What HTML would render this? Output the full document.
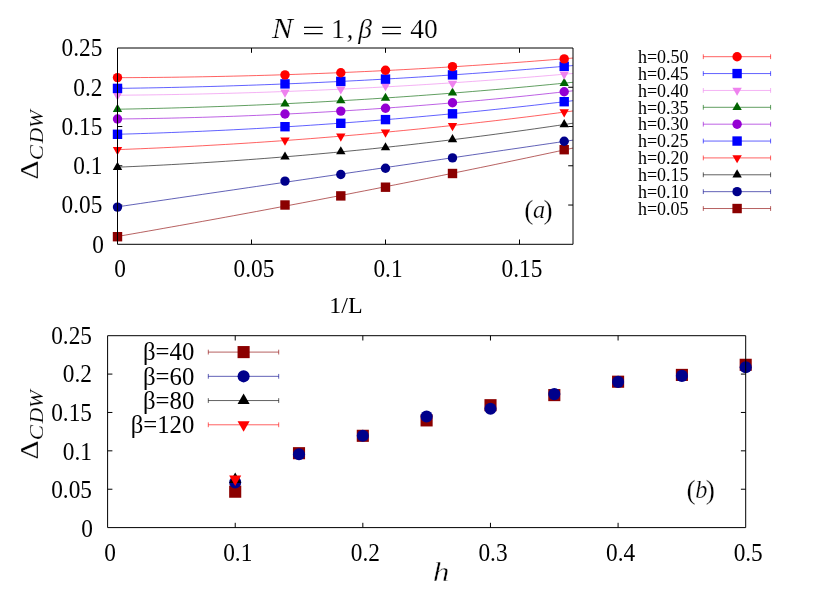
<!DOCTYPE html>
<html><head><meta charset="utf-8"><title>plot</title>
<style>
html,body{margin:0;padding:0;background:#fff}
svg{display:block;will-change:transform}
text{font-family:"Liberation Serif",serif;fill:#000;stroke:none}
.cm{stroke:#fff;stroke-width:.22px}
.cs{stroke:#fff;stroke-width:.1px}
.ch{stroke:#fff;stroke-width:.42px}
.r{font-style:normal}
.i{font-style:italic}
</style></head><body>
<svg width="830" height="604" viewBox="0 0 830 604">
<rect width="830" height="604" fill="#ffffff"/>
<defs><clipPath id="ca"><rect x="117.5" y="48.0" width="455.5" height="196.3"/></clipPath></defs>
<path d="M251.50 244.3v-4.8M251.50 48.0v4.8M385.50 244.3v-4.8M385.50 48.0v4.8M519.50 244.3v-4.8M519.50 48.0v4.8M117.5 205.04h4.8M573.0 205.04h-4.8M117.5 165.78h4.8M573.0 165.78h-4.8M117.5 126.52h4.8M573.0 126.52h-4.8M117.5 87.26h4.8M573.0 87.26h-4.8" stroke="#000" stroke-width="1" fill="none"/>
<path d="M235.22 527.6v-4.8M235.22 335.7v4.8M362.84 527.6v-4.8M362.84 335.7v4.8M490.46 527.6v-4.8M490.46 335.7v4.8M618.08 527.6v-4.8M618.08 335.7v4.8M107.6 489.22h4.8M745.7 489.22h-4.8M107.6 450.84h4.8M745.7 450.84h-4.8M107.6 412.46h4.8M745.7 412.46h-4.8M107.6 374.08h4.8M745.7 374.08h-4.8" stroke="#000" stroke-width="1" fill="none"/>
<g clip-path="url(#ca)" fill="none" stroke-width="1" stroke-opacity="0.62">
<polyline points="117.5,236.46 125.2,235.11 132.9,233.77 140.7,232.41 148.4,231.06 156.1,229.69 163.8,228.32 171.5,226.95 179.3,225.57 187.0,224.19 194.7,222.80 202.4,221.40 210.1,220.00 217.9,218.59 225.6,217.18 233.3,215.76 241.0,214.34 248.7,212.91 256.5,211.48 264.2,210.04 271.9,208.59 279.6,207.15 287.3,205.69 295.1,204.23 302.8,202.76 310.5,201.29 318.2,199.82 325.9,198.33 333.7,196.85 341.4,195.35 349.1,193.86 356.8,192.35 364.6,190.84 372.3,189.33 380.0,187.81 387.7,186.28 395.4,184.75 403.2,183.22 410.9,181.68 418.6,180.13 426.3,178.58 434.0,177.02 441.8,175.46 449.5,173.89 457.2,172.31 464.9,170.74 472.6,169.15 480.4,167.56 488.1,165.97 495.8,164.37 503.5,162.76 511.2,161.15 519.0,159.53 526.7,157.91 534.4,156.28 542.1,154.65 549.8,153.01 557.6,151.37 565.3,149.72 573.0,148.06" stroke="#8b0000"/>
<polyline points="117.5,206.85 125.2,205.71 132.9,204.58 140.7,203.45 148.4,202.31 156.1,201.18 163.8,200.05 171.5,198.92 179.3,197.78 187.0,196.65 194.7,195.52 202.4,194.39 210.1,193.25 217.9,192.12 225.6,190.99 233.3,189.86 241.0,188.73 248.7,187.59 256.5,186.46 264.2,185.33 271.9,184.20 279.6,183.07 287.3,181.94 295.1,180.81 302.8,179.67 310.5,178.54 318.2,177.41 325.9,176.28 333.7,175.15 341.4,174.02 349.1,172.89 356.8,171.76 364.6,170.63 372.3,169.50 380.0,168.37 387.7,167.24 395.4,166.11 403.2,164.98 410.9,163.85 418.6,162.72 426.3,161.59 434.0,160.46 441.8,159.33 449.5,158.20 457.2,157.08 464.9,155.95 472.6,154.82 480.4,153.69 488.1,152.56 495.8,151.43 503.5,150.30 511.2,149.18 519.0,148.05 526.7,146.92 534.4,145.79 542.1,144.66 549.8,143.54 557.6,142.41 565.3,141.28 573.0,140.15" stroke="#00008b"/>
<polyline points="117.5,167.20 125.2,166.87 132.9,166.52 140.7,166.17 148.4,165.79 156.1,165.40 163.8,165.00 171.5,164.59 179.3,164.16 187.0,163.71 194.7,163.25 202.4,162.78 210.1,162.29 217.9,161.79 225.6,161.27 233.3,160.74 241.0,160.19 248.7,159.64 256.5,159.06 264.2,158.47 271.9,157.87 279.6,157.25 287.3,156.62 295.1,155.98 302.8,155.32 310.5,154.64 318.2,153.96 325.9,153.25 333.7,152.54 341.4,151.80 349.1,151.06 356.8,150.30 364.6,149.52 372.3,148.74 380.0,147.93 387.7,147.12 395.4,146.28 403.2,145.44 410.9,144.58 418.6,143.70 426.3,142.81 434.0,141.91 441.8,140.99 449.5,140.06 457.2,139.12 464.9,138.16 472.6,137.18 480.4,136.19 488.1,135.19 495.8,134.17 503.5,133.14 511.2,132.09 519.0,131.03 526.7,129.96 534.4,128.87 542.1,127.76 549.8,126.65 557.6,125.51 565.3,124.37 573.0,123.21" stroke="#000000"/>
<polyline points="117.5,149.62 125.2,149.33 132.9,149.03 140.7,148.72 148.4,148.39 156.1,148.05 163.8,147.70 171.5,147.34 179.3,146.96 187.0,146.57 194.7,146.17 202.4,145.75 210.1,145.32 217.9,144.88 225.6,144.43 233.3,143.97 241.0,143.49 248.7,143.00 256.5,142.49 264.2,141.98 271.9,141.45 279.6,140.91 287.3,140.35 295.1,139.79 302.8,139.21 310.5,138.61 318.2,138.01 325.9,137.39 333.7,136.76 341.4,136.12 349.1,135.46 356.8,134.80 364.6,134.11 372.3,133.42 380.0,132.72 387.7,132.00 395.4,131.27 403.2,130.52 410.9,129.76 418.6,129.00 426.3,128.21 434.0,127.42 441.8,126.61 449.5,125.79 457.2,124.96 464.9,124.11 472.6,123.26 480.4,122.39 488.1,121.50 495.8,120.61 503.5,119.70 511.2,118.78 519.0,117.84 526.7,116.90 534.4,115.94 542.1,114.97 549.8,113.98 557.6,112.98 565.3,111.98 573.0,110.95" stroke="#ff0000"/>
<polyline points="117.5,134.27 125.2,134.05 132.9,133.83 140.7,133.59 148.4,133.34 156.1,133.08 163.8,132.80 171.5,132.51 179.3,132.21 187.0,131.90 194.7,131.58 202.4,131.24 210.1,130.89 217.9,130.53 225.6,130.16 233.3,129.77 241.0,129.37 248.7,128.96 256.5,128.54 264.2,128.11 271.9,127.66 279.6,127.20 287.3,126.73 295.1,126.25 302.8,125.75 310.5,125.24 318.2,124.72 325.9,124.19 333.7,123.65 341.4,123.09 349.1,122.52 356.8,121.94 364.6,121.34 372.3,120.74 380.0,120.12 387.7,119.49 395.4,118.85 403.2,118.19 410.9,117.52 418.6,116.85 426.3,116.15 434.0,115.45 441.8,114.73 449.5,114.01 457.2,113.26 464.9,112.51 472.6,111.75 480.4,110.97 488.1,110.18 495.8,109.38 503.5,108.56 511.2,107.74 519.0,106.90 526.7,106.05 534.4,105.19 542.1,104.31 549.8,103.42 557.6,102.52 565.3,101.61 573.0,100.69" stroke="#0000ff"/>
<polyline points="117.5,118.98 125.2,118.90 132.9,118.80 140.7,118.69 148.4,118.56 156.1,118.42 163.8,118.27 171.5,118.10 179.3,117.92 187.0,117.73 194.7,117.52 202.4,117.30 210.1,117.07 217.9,116.82 225.6,116.56 233.3,116.29 241.0,116.00 248.7,115.70 256.5,115.38 264.2,115.05 271.9,114.71 279.6,114.35 287.3,113.99 295.1,113.60 302.8,113.21 310.5,112.80 318.2,112.37 325.9,111.94 333.7,111.49 341.4,111.02 349.1,110.54 356.8,110.05 364.6,109.55 372.3,109.03 380.0,108.50 387.7,107.95 395.4,107.40 403.2,106.82 410.9,106.24 418.6,105.64 426.3,105.03 434.0,104.40 441.8,103.76 449.5,103.11 457.2,102.44 464.9,101.76 472.6,101.06 480.4,100.36 488.1,99.64 495.8,98.90 503.5,98.15 511.2,97.39 519.0,96.62 526.7,95.83 534.4,95.03 542.1,94.21 549.8,93.38 557.6,92.54 565.3,91.68 573.0,90.81" stroke="#9400d3"/>
<polyline points="117.5,109.24 125.2,109.09 132.9,108.94 140.7,108.78 148.4,108.60 156.1,108.42 163.8,108.22 171.5,108.02 179.3,107.80 187.0,107.57 194.7,107.33 202.4,107.08 210.1,106.82 217.9,106.55 225.6,106.27 233.3,105.97 241.0,105.67 248.7,105.35 256.5,105.03 264.2,104.69 271.9,104.34 279.6,103.98 287.3,103.61 295.1,103.23 302.8,102.84 310.5,102.44 318.2,102.03 325.9,101.60 333.7,101.17 341.4,100.72 349.1,100.26 356.8,99.80 364.6,99.32 372.3,98.83 380.0,98.33 387.7,97.82 395.4,97.30 403.2,96.76 410.9,96.22 418.6,95.66 426.3,95.10 434.0,94.52 441.8,93.94 449.5,93.34 457.2,92.73 464.9,92.11 472.6,91.48 480.4,90.84 488.1,90.18 495.8,89.52 503.5,88.85 511.2,88.16 519.0,87.46 526.7,86.76 534.4,86.04 542.1,85.31 549.8,84.57 557.6,83.82 565.3,83.06 573.0,82.29" stroke="#006400"/>
<polyline points="117.5,95.22 125.2,95.16 132.9,95.09 140.7,95.00 148.4,94.91 156.1,94.81 163.8,94.69 171.5,94.57 179.3,94.43 187.0,94.28 194.7,94.13 202.4,93.96 210.1,93.78 217.9,93.59 225.6,93.39 233.3,93.18 241.0,92.96 248.7,92.73 256.5,92.49 264.2,92.24 271.9,91.98 279.6,91.70 287.3,91.42 295.1,91.12 302.8,90.82 310.5,90.50 318.2,90.18 325.9,89.84 333.7,89.49 341.4,89.13 349.1,88.76 356.8,88.38 364.6,87.99 372.3,87.59 380.0,87.18 387.7,86.76 395.4,86.33 403.2,85.88 410.9,85.43 418.6,84.97 426.3,84.49 434.0,84.01 441.8,83.51 449.5,83.00 457.2,82.49 464.9,81.96 472.6,81.42 480.4,80.87 488.1,80.31 495.8,79.74 503.5,79.16 511.2,78.57 519.0,77.97 526.7,77.36 534.4,76.73 542.1,76.10 549.8,75.46 557.6,74.80 565.3,74.14 573.0,73.46" stroke="#ee82ee"/>
<polyline points="117.5,88.39 125.2,88.29 132.9,88.17 140.7,88.05 148.4,87.91 156.1,87.77 163.8,87.61 171.5,87.45 179.3,87.28 187.0,87.10 194.7,86.90 202.4,86.70 210.1,86.49 217.9,86.27 225.6,86.04 233.3,85.79 241.0,85.54 248.7,85.28 256.5,85.01 264.2,84.73 271.9,84.44 279.6,84.14 287.3,83.83 295.1,83.52 302.8,83.19 310.5,82.85 318.2,82.50 325.9,82.14 333.7,81.77 341.4,81.40 349.1,81.01 356.8,80.61 364.6,80.21 372.3,79.79 380.0,79.36 387.7,78.93 395.4,78.48 403.2,78.03 410.9,77.56 418.6,77.09 426.3,76.60 434.0,76.11 441.8,75.61 449.5,75.09 457.2,74.57 464.9,74.04 472.6,73.49 480.4,72.94 488.1,72.38 495.8,71.81 503.5,71.22 511.2,70.63 519.0,70.03 526.7,69.42 534.4,68.80 542.1,68.17 549.8,67.53 557.6,66.88 565.3,66.22 573.0,65.55" stroke="#0000ff"/>
<polyline points="117.5,77.68 125.2,77.65 132.9,77.61 140.7,77.56 148.4,77.50 156.1,77.43 163.8,77.34 171.5,77.25 179.3,77.15 187.0,77.04 194.7,76.91 202.4,76.78 210.1,76.64 217.9,76.48 225.6,76.32 233.3,76.14 241.0,75.96 248.7,75.76 256.5,75.55 264.2,75.34 271.9,75.11 279.6,74.87 287.3,74.62 295.1,74.36 302.8,74.09 310.5,73.81 318.2,73.52 325.9,73.22 333.7,72.91 341.4,72.59 349.1,72.25 356.8,71.91 364.6,71.56 372.3,71.19 380.0,70.82 387.7,70.43 395.4,70.04 403.2,69.63 410.9,69.22 418.6,68.79 426.3,68.35 434.0,67.90 441.8,67.45 449.5,66.98 457.2,66.50 464.9,66.01 472.6,65.51 480.4,65.00 488.1,64.48 495.8,63.95 503.5,63.40 511.2,62.85 519.0,62.29 526.7,61.72 534.4,61.13 542.1,60.54 549.8,59.93 557.6,59.32 565.3,58.69 573.0,58.06" stroke="#ff0000"/>
</g>
<rect x="112.80" y="232.00" width="9.40" height="9.40" fill="#8b0000"/>
<rect x="280.30" y="200.30" width="9.40" height="9.40" fill="#8b0000"/>
<rect x="336.10" y="191.20" width="9.40" height="9.40" fill="#8b0000"/>
<rect x="380.80" y="182.50" width="9.40" height="9.40" fill="#8b0000"/>
<rect x="447.80" y="168.80" width="9.40" height="9.40" fill="#8b0000"/>
<rect x="559.50" y="145.00" width="9.40" height="9.40" fill="#8b0000"/>
<circle cx="117.50" cy="207.10" r="4.70" fill="#00008b"/>
<circle cx="285.00" cy="181.10" r="4.70" fill="#00008b"/>
<circle cx="340.80" cy="174.50" r="4.70" fill="#00008b"/>
<circle cx="385.50" cy="168.20" r="4.70" fill="#00008b"/>
<circle cx="452.50" cy="157.90" r="4.70" fill="#00008b"/>
<circle cx="564.20" cy="141.20" r="4.70" fill="#00008b"/>
<path d="M117.50 161.77L122.20 169.91L112.80 169.91Z" fill="#000000"/>
<path d="M285.00 151.42L289.70 159.56L280.30 159.56Z" fill="#000000"/>
<path d="M340.80 146.22L345.50 154.36L336.10 154.36Z" fill="#000000"/>
<path d="M385.50 142.22L390.20 150.36L380.80 150.36Z" fill="#000000"/>
<path d="M452.50 134.12L457.20 142.26L447.80 142.26Z" fill="#000000"/>
<path d="M564.20 119.12L568.90 127.26L559.50 127.26Z" fill="#000000"/>
<path d="M117.50 155.13L122.20 146.99L112.80 146.99Z" fill="#ff0000"/>
<path d="M285.00 145.63L289.70 137.49L280.30 137.49Z" fill="#ff0000"/>
<path d="M340.80 141.73L345.50 133.59L336.10 133.59Z" fill="#ff0000"/>
<path d="M385.50 137.63L390.20 129.49L380.80 129.49Z" fill="#ff0000"/>
<path d="M452.50 131.13L457.20 122.99L447.80 122.99Z" fill="#ff0000"/>
<path d="M564.20 117.43L568.90 109.29L559.50 109.29Z" fill="#ff0000"/>
<rect x="112.80" y="129.60" width="9.40" height="9.40" fill="#0000ff"/>
<rect x="280.30" y="122.00" width="9.40" height="9.40" fill="#0000ff"/>
<rect x="336.10" y="118.60" width="9.40" height="9.40" fill="#0000ff"/>
<rect x="380.80" y="114.90" width="9.40" height="9.40" fill="#0000ff"/>
<rect x="447.80" y="109.10" width="9.40" height="9.40" fill="#0000ff"/>
<rect x="559.50" y="97.00" width="9.40" height="9.40" fill="#0000ff"/>
<circle cx="117.50" cy="119.00" r="4.70" fill="#9400d3"/>
<circle cx="285.00" cy="114.00" r="4.70" fill="#9400d3"/>
<circle cx="340.80" cy="111.10" r="4.70" fill="#9400d3"/>
<circle cx="385.50" cy="108.20" r="4.70" fill="#9400d3"/>
<circle cx="452.50" cy="102.80" r="4.70" fill="#9400d3"/>
<circle cx="564.20" cy="91.80" r="4.70" fill="#9400d3"/>
<path d="M117.50 103.77L122.20 111.91L112.80 111.91Z" fill="#006400"/>
<path d="M285.00 98.42L289.70 106.56L280.30 106.56Z" fill="#006400"/>
<path d="M340.80 95.22L345.50 103.36L336.10 103.36Z" fill="#006400"/>
<path d="M385.50 92.72L390.20 100.86L380.80 100.86Z" fill="#006400"/>
<path d="M452.50 87.42L457.20 95.56L447.80 95.56Z" fill="#006400"/>
<path d="M564.20 77.82L568.90 85.96L559.50 85.96Z" fill="#006400"/>
<path d="M117.50 100.53L122.20 92.39L112.80 92.39Z" fill="#ee82ee"/>
<path d="M285.00 97.63L289.70 89.49L280.30 89.49Z" fill="#ee82ee"/>
<path d="M340.80 94.53L345.50 86.39L336.10 86.39Z" fill="#ee82ee"/>
<path d="M385.50 91.23L390.20 83.09L380.80 83.09Z" fill="#ee82ee"/>
<path d="M452.50 88.83L457.20 80.69L447.80 80.69Z" fill="#ee82ee"/>
<path d="M564.20 79.63L568.90 71.49L559.50 71.49Z" fill="#ee82ee"/>
<rect x="112.80" y="83.70" width="9.40" height="9.40" fill="#0000ff"/>
<rect x="280.30" y="79.20" width="9.40" height="9.40" fill="#0000ff"/>
<rect x="336.10" y="76.70" width="9.40" height="9.40" fill="#0000ff"/>
<rect x="380.80" y="74.40" width="9.40" height="9.40" fill="#0000ff"/>
<rect x="447.80" y="70.20" width="9.40" height="9.40" fill="#0000ff"/>
<rect x="559.50" y="61.60" width="9.40" height="9.40" fill="#0000ff"/>
<circle cx="117.50" cy="77.60" r="4.70" fill="#ff0000"/>
<circle cx="285.00" cy="74.90" r="4.70" fill="#ff0000"/>
<circle cx="340.80" cy="72.80" r="4.70" fill="#ff0000"/>
<circle cx="385.50" cy="70.30" r="4.70" fill="#ff0000"/>
<circle cx="452.50" cy="66.60" r="4.70" fill="#ff0000"/>
<circle cx="564.20" cy="58.90" r="4.70" fill="#ff0000"/>
<text x="688.6" y="62.90" text-anchor="end" font-size="18" class="r">h=0.50</text>
<path d="M703.3 56.70H770.6M703.3 54.30v4.8M770.6 54.30v4.8" stroke="#ff0000" stroke-opacity="0.62" fill="none"/>
<circle cx="737.10" cy="56.70" r="4.70" fill="#ff0000"/>
<text x="688.6" y="79.77" text-anchor="end" font-size="18" class="r">h=0.45</text>
<path d="M703.3 73.57H770.6M703.3 71.17v4.8M770.6 71.17v4.8" stroke="#0000ff" stroke-opacity="0.62" fill="none"/>
<rect x="732.40" y="68.87" width="9.40" height="9.40" fill="#0000ff"/>
<text x="688.6" y="96.64" text-anchor="end" font-size="18" class="r">h=0.40</text>
<path d="M703.3 90.44H770.6M703.3 88.04v4.8M770.6 88.04v4.8" stroke="#ee82ee" stroke-opacity="0.62" fill="none"/>
<path d="M737.10 95.87L741.80 87.73L732.40 87.73Z" fill="#ee82ee"/>
<text x="688.6" y="113.51" text-anchor="end" font-size="18" class="r">h=0.35</text>
<path d="M703.3 107.31H770.6M703.3 104.91v4.8M770.6 104.91v4.8" stroke="#006400" stroke-opacity="0.62" fill="none"/>
<path d="M737.10 101.88L741.80 110.02L732.40 110.02Z" fill="#006400"/>
<text x="688.6" y="130.38" text-anchor="end" font-size="18" class="r">h=0.30</text>
<path d="M703.3 124.18H770.6M703.3 121.78v4.8M770.6 121.78v4.8" stroke="#9400d3" stroke-opacity="0.62" fill="none"/>
<circle cx="737.10" cy="124.18" r="4.70" fill="#9400d3"/>
<text x="688.6" y="147.25" text-anchor="end" font-size="18" class="r">h=0.25</text>
<path d="M703.3 141.05H770.6M703.3 138.65v4.8M770.6 138.65v4.8" stroke="#0000ff" stroke-opacity="0.62" fill="none"/>
<rect x="732.40" y="136.35" width="9.40" height="9.40" fill="#0000ff"/>
<text x="688.6" y="164.12" text-anchor="end" font-size="18" class="r">h=0.20</text>
<path d="M703.3 157.92H770.6M703.3 155.52v4.8M770.6 155.52v4.8" stroke="#ff0000" stroke-opacity="0.62" fill="none"/>
<path d="M737.10 163.35L741.80 155.21L732.40 155.21Z" fill="#ff0000"/>
<text x="688.6" y="180.99" text-anchor="end" font-size="18" class="r">h=0.15</text>
<path d="M703.3 174.79H770.6M703.3 172.39v4.8M770.6 172.39v4.8" stroke="#000000" stroke-opacity="0.62" fill="none"/>
<path d="M737.10 169.36L741.80 177.50L732.40 177.50Z" fill="#000000"/>
<text x="688.6" y="197.86" text-anchor="end" font-size="18" class="r">h=0.10</text>
<path d="M703.3 191.66H770.6M703.3 189.26v4.8M770.6 189.26v4.8" stroke="#00008b" stroke-opacity="0.62" fill="none"/>
<circle cx="737.10" cy="191.66" r="4.70" fill="#00008b"/>
<text x="688.6" y="214.73" text-anchor="end" font-size="18" class="r">h=0.05</text>
<path d="M703.3 208.53H770.6M703.3 206.13v4.8M770.6 206.13v4.8" stroke="#8b0000" stroke-opacity="0.62" fill="none"/>
<rect x="732.40" y="203.83" width="9.40" height="9.40" fill="#8b0000"/>
<rect x="229.15" y="485.65" width="12.10" height="12.10" fill="#8b0000"/>
<rect x="292.95" y="447.15" width="12.10" height="12.10" fill="#8b0000"/>
<rect x="356.75" y="429.75" width="12.10" height="12.10" fill="#8b0000"/>
<rect x="420.55" y="414.35" width="12.10" height="12.10" fill="#8b0000"/>
<rect x="484.45" y="399.15" width="12.10" height="12.10" fill="#8b0000"/>
<rect x="548.25" y="389.05" width="12.10" height="12.10" fill="#8b0000"/>
<rect x="612.05" y="375.65" width="12.10" height="12.10" fill="#8b0000"/>
<rect x="675.85" y="368.85" width="12.10" height="12.10" fill="#8b0000"/>
<rect x="739.65" y="358.75" width="12.10" height="12.10" fill="#8b0000"/>
<circle cx="235.20" cy="482.40" r="6.05" fill="#00008b"/>
<circle cx="299.00" cy="454.20" r="6.05" fill="#00008b"/>
<circle cx="362.80" cy="435.70" r="6.05" fill="#00008b"/>
<circle cx="426.60" cy="416.50" r="6.05" fill="#00008b"/>
<circle cx="490.50" cy="408.80" r="6.05" fill="#00008b"/>
<circle cx="554.30" cy="394.10" r="6.05" fill="#00008b"/>
<circle cx="618.10" cy="381.90" r="6.05" fill="#00008b"/>
<circle cx="681.90" cy="375.90" r="6.05" fill="#00008b"/>
<circle cx="745.70" cy="367.30" r="6.05" fill="#00008b"/>
<path d="M235.20 472.51L241.25 482.99L229.15 482.99Z" fill="#000000"/>
<path d="M235.20 485.99L241.25 475.51L229.15 475.51Z" fill="#ff0000"/>
<text transform="translate(194.30 360.40) scale(0.945 1)" text-anchor="end" font-size="26.2" class="r">β=40</text>
<path d="M208.3 352.10H278.7M208.3 349.70v4.8M278.7 349.70v4.8" stroke="#8b0000" stroke-opacity="0.62" fill="none"/>
<rect x="237.55" y="346.05" width="12.10" height="12.10" fill="#8b0000"/>
<text transform="translate(194.30 384.63) scale(0.945 1)" text-anchor="end" font-size="26.2" class="r">β=60</text>
<path d="M208.3 376.33H278.7M208.3 373.93v4.8M278.7 373.93v4.8" stroke="#00008b" stroke-opacity="0.62" fill="none"/>
<circle cx="243.60" cy="376.33" r="6.05" fill="#00008b"/>
<text transform="translate(194.30 408.86) scale(0.945 1)" text-anchor="end" font-size="26.2" class="r">β=80</text>
<path d="M208.3 400.56H278.7M208.3 398.16v4.8M278.7 398.16v4.8" stroke="#000000" stroke-opacity="0.62" fill="none"/>
<path d="M243.60 393.57L249.65 404.05L237.55 404.05Z" fill="#000000"/>
<text transform="translate(194.30 433.09) scale(0.945 1)" text-anchor="end" font-size="26.2" class="r">β=120</text>
<path d="M208.3 424.79H278.7M208.3 422.39v4.8M278.7 422.39v4.8" stroke="#ff0000" stroke-opacity="0.62" fill="none"/>
<path d="M243.60 431.78L249.65 421.30L237.55 421.30Z" fill="#ff0000"/>
<path d="M117.5 48.0H573.0V244.3H117.5Z M107.6 335.7H745.7V527.6H107.6Z" stroke="#000" stroke-width="1" fill="none"/>
<text transform="translate(103.80 252.60) scale(0.897 1)" text-anchor="end" font-size="26" class="r">0</text>
<text transform="translate(102.40 213.34) scale(0.897 1)" text-anchor="end" font-size="26" class="r">0.05</text>
<text transform="translate(102.40 174.08) scale(0.897 1)" text-anchor="end" font-size="26" class="r">0.1</text>
<text transform="translate(102.40 134.82) scale(0.897 1)" text-anchor="end" font-size="26" class="r">0.15</text>
<text transform="translate(102.40 95.56) scale(0.897 1)" text-anchor="end" font-size="26" class="r">0.2</text>
<text transform="translate(102.40 56.30) scale(0.897 1)" text-anchor="end" font-size="26" class="r">0.25</text>
<text transform="translate(93.00 536.80) scale(0.897 1)" text-anchor="end" font-size="26" class="r">0</text>
<text transform="translate(92.00 498.22) scale(0.897 1)" text-anchor="end" font-size="26" class="r">0.05</text>
<text transform="translate(92.00 459.64) scale(0.897 1)" text-anchor="end" font-size="26" class="r">0.1</text>
<text transform="translate(92.00 421.06) scale(0.897 1)" text-anchor="end" font-size="26" class="r">0.15</text>
<text transform="translate(92.00 382.48) scale(0.897 1)" text-anchor="end" font-size="26" class="r">0.2</text>
<text transform="translate(92.00 343.90) scale(0.897 1)" text-anchor="end" font-size="26" class="r">0.25</text>
<text transform="translate(120.00 276.60) scale(0.897 1)" text-anchor="middle" font-size="26" class="r">0</text>
<text transform="translate(254.00 276.60) scale(0.897 1)" text-anchor="middle" font-size="26" class="r">0.05</text>
<text transform="translate(388.00 276.60) scale(0.897 1)" text-anchor="middle" font-size="26" class="r">0.1</text>
<text transform="translate(522.00 276.60) scale(0.897 1)" text-anchor="middle" font-size="26" class="r">0.15</text>
<text transform="translate(110.10 560.80) scale(0.897 1)" text-anchor="middle" font-size="26" class="r">0</text>
<text transform="translate(237.72 560.80) scale(0.897 1)" text-anchor="middle" font-size="26" class="r">0.1</text>
<text transform="translate(365.34 560.80) scale(0.897 1)" text-anchor="middle" font-size="26" class="r">0.2</text>
<text transform="translate(492.96 560.80) scale(0.897 1)" text-anchor="middle" font-size="26" class="r">0.3</text>
<text transform="translate(620.58 560.80) scale(0.897 1)" text-anchor="middle" font-size="26" class="r">0.4</text>
<text transform="translate(748.20 560.80) scale(0.897 1)" text-anchor="middle" font-size="26" class="r">0.5</text>
<text x="329.3" y="312.8" font-size="24" class="r">1/L</text>
<text x="432.8" y="580.8" font-size="27.5" class="i ch" textLength="16.8" lengthAdjust="spacingAndGlyphs">h</text>
<text x="272" y="37.8" font-size="28.5" class="i cm" textLength="20.9" lengthAdjust="spacingAndGlyphs">N</text>
<path d="M304 27.3h18.7M304 33.6h18.7M382.2 27.3h18.7M382.2 33.6h18.7" stroke="#000" stroke-width="1.15" fill="none"/>
<text x="331" y="37.8" font-size="28" class="r cm">1</text>
<text x="346.4" y="37.8" font-size="28" class="r cm">,</text>
<text x="358.3" y="37.8" font-size="27.5" class="i cm">β</text>
<text x="410.3" y="37.8" font-size="27.5" class="r cm">40</text>
<text x="524.23" y="218.50" font-size="27.5" class="r cm">(</text>
<text x="532.93" y="218.10" font-size="24.3" class="i cm">a</text>
<text x="543.50" y="218.50" font-size="27.5" class="r cm">)</text>
<text x="686.43" y="498.70" font-size="27.5" class="r cm">(</text>
<text x="695.13" y="498.30" font-size="24.3" class="i cm">b</text>
<text x="705.70" y="498.70" font-size="27.5" class="r cm">)</text>
<g transform="translate(38.3 178.3) rotate(-90)"><text x="-1.1" y="0" font-size="25.5" class="r cm" textLength="19" lengthAdjust="spacingAndGlyphs">Δ</text><text x="18.0" y="4.6" font-size="19.8" class="i cs" textLength="15.2" lengthAdjust="spacingAndGlyphs">C</text><text x="35.0" y="4.6" font-size="19.8" class="i cs" textLength="15.4" lengthAdjust="spacingAndGlyphs">D</text><text x="50.2" y="4.6" font-size="19.8" class="i cs" textLength="17.8" lengthAdjust="spacingAndGlyphs">W</text></g>
<g transform="translate(38.3 458.3) rotate(-90)"><text x="-1.1" y="0" font-size="25.5" class="r cm" textLength="19" lengthAdjust="spacingAndGlyphs">Δ</text><text x="18.0" y="4.6" font-size="19.8" class="i cs" textLength="15.2" lengthAdjust="spacingAndGlyphs">C</text><text x="35.0" y="4.6" font-size="19.8" class="i cs" textLength="15.4" lengthAdjust="spacingAndGlyphs">D</text><text x="50.2" y="4.6" font-size="19.8" class="i cs" textLength="17.8" lengthAdjust="spacingAndGlyphs">W</text></g>
</svg>
</body></html>
